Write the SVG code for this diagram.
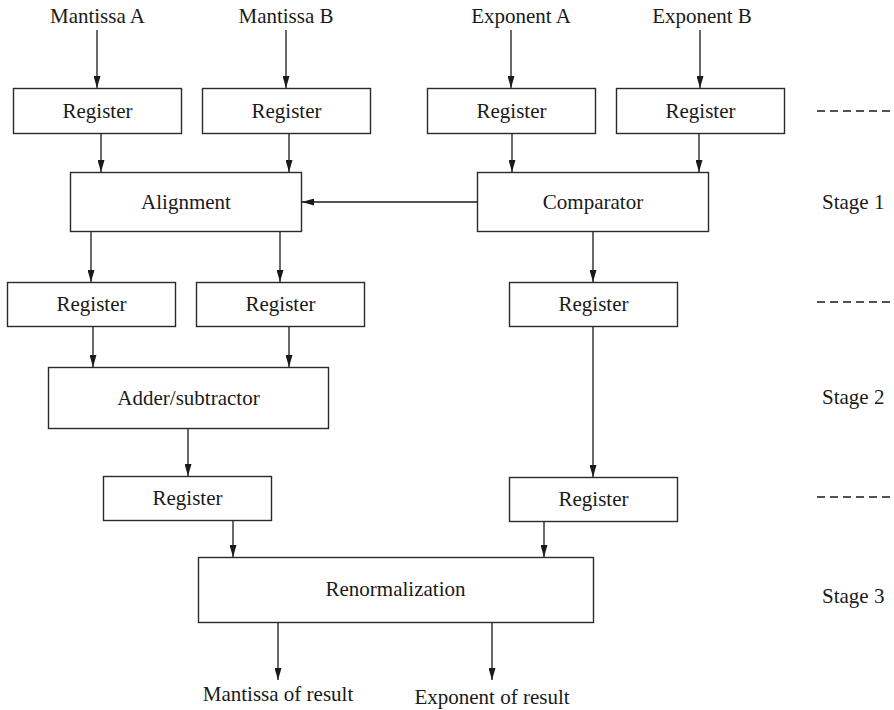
<svg xmlns="http://www.w3.org/2000/svg" width="894" height="710" viewBox="0 0 894 710">
  <defs>
    <marker id="arrow" viewBox="0 0 12 7" refX="12" refY="3.5" markerWidth="12" markerHeight="7" markerUnits="userSpaceOnUse" orient="auto">
      <path d="M0,0 L12,3.5 L0,7 Z" fill="#1a1a1a"/>
    </marker>
  </defs>
  <style>
    .box { fill: #ffffff; stroke: #2a2a2a; stroke-width: 1.4; }
    .lbl { font-family: "Liberation Serif", "Times New Roman", serif; font-size: 21px; fill: #1a1a1a; text-anchor: middle; }
    .stage { font-family: "Liberation Serif", "Times New Roman", serif; font-size: 21px; fill: #1a1a1a; }
    .wire { stroke: #1a1a1a; stroke-width: 1.3; fill: none; marker-end: url(#arrow); }
    .sep { stroke: #1a1a1a; stroke-width: 1.3; stroke-dasharray: 8 5; }
  </style>
  <rect width="894" height="710" fill="#ffffff"/>

  <!-- input labels -->
  <g id="inputs">
    <text class="lbl" x="97.5" y="23">Mantissa A</text>
    <text class="lbl" x="286" y="23">Mantissa B</text>
    <text class="lbl" x="521" y="23">Exponent A</text>
    <text class="lbl" x="702" y="23">Exponent B</text>
  </g>

  <!-- stage 1 input registers -->
  <g id="reg-ma"><rect class="box" x="13.5" y="88.5" width="168" height="45"/><text class="lbl" x="97.5" y="117.5">Register</text></g>
  <g id="reg-mb"><rect class="box" x="202.5" y="88.5" width="168" height="45"/><text class="lbl" x="286.5" y="117.5">Register</text></g>
  <g id="reg-ea"><rect class="box" x="427.5" y="88.5" width="168" height="45"/><text class="lbl" x="511.5" y="117.5">Register</text></g>
  <g id="reg-eb"><rect class="box" x="616.5" y="88.5" width="168" height="45"/><text class="lbl" x="700.5" y="117.5">Register</text></g>

  <!-- stage 1 logic -->
  <g id="alignment"><rect class="box" x="70.5" y="172.5" width="231" height="59"/><text class="lbl" x="186" y="209">Alignment</text></g>
  <g id="comparator"><rect class="box" x="477.5" y="172.5" width="231" height="59"/><text class="lbl" x="593" y="209">Comparator</text></g>

  <!-- stage 2 registers -->
  <g id="reg-s2a"><rect class="box" x="7.5" y="282.5" width="168" height="44"/><text class="lbl" x="91.5" y="311">Register</text></g>
  <g id="reg-s2b"><rect class="box" x="196.5" y="282.5" width="168" height="44"/><text class="lbl" x="280.5" y="311">Register</text></g>
  <g id="reg-s2e"><rect class="box" x="509.5" y="282.5" width="168" height="44"/><text class="lbl" x="593.5" y="311">Register</text></g>

  <!-- stage 2 logic -->
  <g id="adder"><rect class="box" x="48.5" y="367.5" width="280" height="61"/><text class="lbl" x="188.5" y="404.5">Adder/subtractor</text></g>

  <!-- stage 3 registers -->
  <g id="reg-s3m"><rect class="box" x="103.5" y="476.5" width="168" height="44"/><text class="lbl" x="187.5" y="505">Register</text></g>
  <g id="reg-s3e"><rect class="box" x="509.5" y="477.5" width="168" height="44"/><text class="lbl" x="593.5" y="506">Register</text></g>

  <!-- stage 3 logic -->
  <g id="renormalization"><rect class="box" x="198.5" y="557.5" width="395" height="65"/><text class="lbl" x="395.5" y="596">Renormalization</text></g>

  <!-- outputs -->
  <g id="outputs">
    <text class="lbl" x="278" y="701">Mantissa of result</text>
    <text class="lbl" x="492" y="704">Exponent of result</text>
  </g>

  <!-- pipeline stage markers -->
  <g id="stages">
    <line class="sep" x1="817" y1="111" x2="891" y2="111"/>
    <line class="sep" x1="817" y1="302" x2="891" y2="302"/>
    <line class="sep" x1="817" y1="497" x2="891" y2="497"/>
    <text class="stage" x="822" y="209">Stage 1</text>
    <text class="stage" x="822" y="404">Stage 2</text>
    <text class="stage" x="822" y="603">Stage 3</text>
  </g>

  <!-- connectors -->
  <g id="connectors">
    <line class="wire" x1="97" y1="30" x2="97" y2="88"/>
    <line class="wire" x1="286" y1="30" x2="286" y2="88"/>
    <line class="wire" x1="511" y1="30" x2="511" y2="88"/>
    <line class="wire" x1="700" y1="30" x2="700" y2="88"/>

    <line class="wire" x1="101" y1="134" x2="101" y2="172"/>
    <line class="wire" x1="289" y1="134" x2="289" y2="172"/>
    <line class="wire" x1="512" y1="134" x2="512" y2="172"/>
    <line class="wire" x1="699" y1="134" x2="699" y2="172"/>

    <line class="wire" x1="477" y1="202" x2="302" y2="202"/>

    <line class="wire" x1="91" y1="232" x2="91" y2="282"/>
    <line class="wire" x1="280" y1="232" x2="280" y2="282"/>
    <line class="wire" x1="593" y1="232" x2="593" y2="282"/>

    <line class="wire" x1="93" y1="327" x2="93" y2="367"/>
    <line class="wire" x1="289" y1="327" x2="289" y2="367"/>
    <line class="wire" x1="593" y1="327" x2="593" y2="477"/>

    <line class="wire" x1="188" y1="429" x2="188" y2="476"/>

    <line class="wire" x1="233" y1="521" x2="233" y2="557"/>
    <line class="wire" x1="544" y1="522" x2="544" y2="557"/>

    <line class="wire" x1="278" y1="623" x2="278" y2="680"/>
    <line class="wire" x1="492" y1="623" x2="492" y2="680"/>
  </g>
</svg>
